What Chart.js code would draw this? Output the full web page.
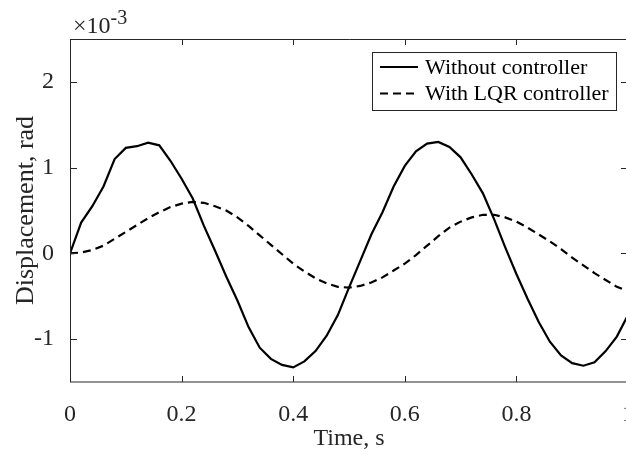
<!DOCTYPE html>
<html>
<head>
<meta charset="utf-8">
<script src="https://cdn.jsdelivr.net/npm/chart.js@4.4.1/dist/chart.umd.min.js"></script>
<style>
  html, body { margin: 0; padding: 0; background: #fff; overflow: hidden; }
  #wrap { position: relative; width: 630px; height: 454px; }
</style>
</head>
<body>
<div id="wrap"><canvas id="dispChart"></canvas></div>
<script>
// ── data (displacement in units of 1e-3 rad) ──
const timeS = [0, 0.02, 0.04, 0.06, 0.08, 0.10, 0.12, 0.14, 0.16, 0.18,
  0.20, 0.22, 0.24, 0.26, 0.28, 0.30, 0.32, 0.34, 0.36, 0.38,
  0.40, 0.42, 0.44, 0.46, 0.48, 0.50, 0.52, 0.54, 0.56, 0.58,
  0.60, 0.62, 0.64, 0.66, 0.68, 0.70, 0.72, 0.74, 0.76, 0.78,
  0.80, 0.82, 0.84, 0.86, 0.88, 0.90, 0.92, 0.94, 0.96, 0.98, 1.00];

const withoutCtrl = [0, 0.36, 0.55, 0.78, 1.10, 1.23, 1.25, 1.29, 1.26, 1.08,
  0.87, 0.64, 0.32, 0.03, -0.27, -0.55, -0.86, -1.10, -1.23, -1.30,
  -1.33, -1.26, -1.14, -0.96, -0.72, -0.40, -0.09, 0.22, 0.48, 0.78,
  1.02, 1.19, 1.28, 1.30, 1.24, 1.12, 0.92, 0.70, 0.40, 0.07,
  -0.24, -0.53, -0.80, -1.03, -1.19, -1.28, -1.31, -1.27, -1.14, -0.97, -0.72];

const withLqr = [0, 0.01, 0.04, 0.09, 0.17, 0.25, 0.33, 0.41, 0.48, 0.54,
  0.58, 0.60, 0.59, 0.55, 0.50, 0.42, 0.32, 0.21, 0.10, -0.01,
  -0.12, -0.21, -0.29, -0.35, -0.39, -0.40, -0.38, -0.34, -0.28, -0.20,
  -0.12, -0.02, 0.09, 0.20, 0.30, 0.37, 0.42, 0.45, 0.45, 0.42,
  0.37, 0.30, 0.22, 0.14, 0.05, -0.05, -0.14, -0.23, -0.31, -0.39, -0.44];

const xTicks = [0, 0.2, 0.4, 0.6, 0.8, 1];
const yTicks = [-1, 0, 1, 2];
const seriesNames = ['Without controller', 'With LQR controller'];

const FONT = "'Liberation Serif', 'Times New Roman', serif";
const INK = '#262626';

const toPts = arr => arr.map((v, i) => ({ x: timeS[i], y: v }));

// box, inward ticks, exponent, legend, axis titles (MATLAB look)
const matlabFrame = {
  id: 'matlabFrame',
  afterDraw(chart) {
    const { ctx, chartArea: a, scales: { x, y } } = chart;
    ctx.save();
    ctx.strokeStyle = INK;
    ctx.lineWidth = 1;
    ctx.beginPath();
    ctx.moveTo(a.left + 0.5, a.top + 0.5);
    ctx.lineTo(a.right, a.top + 0.5);
    ctx.moveTo(a.left + 0.5, a.top);
    ctx.lineTo(a.left + 0.5, a.bottom);
    ctx.moveTo(a.left, a.bottom);
    ctx.lineTo(a.right, a.bottom);
    ctx.moveTo(a.right - 0.5, a.top);
    ctx.lineTo(a.right - 0.5, a.bottom);
    x.ticks.forEach(t => {
      const px = Math.round(x.getPixelForValue(t.value)) + 0.5;
      ctx.moveTo(px, a.bottom); ctx.lineTo(px, a.bottom - 6);
      ctx.moveTo(px, a.top); ctx.lineTo(px, a.top + 6);
    });
    y.ticks.forEach(t => {
      const py = Math.round(y.getPixelForValue(t.value)) + 0.5;
      ctx.moveTo(a.left, py); ctx.lineTo(a.left + 7, py);
      ctx.moveTo(a.right, py); ctx.lineTo(a.right - 7, py);
    });
    ctx.stroke();

    // exponent label
    ctx.fillStyle = INK;
    ctx.textBaseline = 'alphabetic';
    ctx.textAlign = 'left';
    ctx.font = `24px ${FONT}`;
    ctx.fillText('\u00d710', 73, 33);
    const w = ctx.measureText('\u00d710').width;
    ctx.font = `20px ${FONT}`;
    ctx.fillText('-3', 73 + w, 24);

    // axis titles
    ctx.font = `24px ${FONT}`;
    ctx.textAlign = 'center';
    ctx.fillText('Time, s', (a.left + a.right) / 2, 445);
    ctx.save();
    ctx.font = `26px ${FONT}`;
    ctx.translate(33, (a.top + a.bottom) / 2);
    ctx.rotate(-Math.PI / 2);
    ctx.fillText('Displacement, rad', 0, 0);
    ctx.restore();

    // legend
    const lx = 372.5, ly = 52.5, lw = 244, lh = 58;
    ctx.fillStyle = '#fff';
    ctx.fillRect(lx, ly, lw, lh);
    ctx.strokeStyle = INK;
    ctx.strokeRect(lx, ly, lw, lh);
    ctx.font = `22px ${FONT}`;
    ctx.textAlign = 'left';
    ctx.textBaseline = 'middle';
    chart.data.datasets.forEach((ds, i) => {
      const rowY = 67 + i * 26.5;
      ctx.strokeStyle = ds.borderColor;
      ctx.lineWidth = ds.borderWidth;
      ctx.setLineDash(ds.borderDash || []);
      ctx.beginPath();
      ctx.moveTo(380, rowY);
      ctx.lineTo(418, rowY);
      ctx.stroke();
      ctx.setLineDash([]);
      ctx.fillStyle = '#000';
      ctx.fillText(ds.label, 425, rowY + 1);
    });
    ctx.restore();
  }
};

new Chart(document.getElementById('dispChart'), {
  type: 'line',
  data: {
    datasets: [
      { label: seriesNames[0], data: toPts(withoutCtrl), borderColor: '#000', borderWidth: 2.2, pointRadius: 0, tension: 0 },
      { label: seriesNames[1], data: toPts(withLqr), borderColor: '#000', borderWidth: 2.2, borderDash: [8, 5], pointRadius: 0, tension: 0 }
    ]
  },
  options: {
    responsive: true,
    maintainAspectRatio: false,
    animation: false,
    layout: { padding: { left: 0, top: 39, right: 2, bottom: 0 } },
    plugins: { legend: { display: false }, tooltip: { enabled: false } },
    scales: {
      x: {
        type: 'linear', min: 0, max: 1,
        afterBuildTicks: s => { s.ticks = xTicks.map(v => ({ value: v })); },
        afterFit: s => { s.height = 72; s.paddingLeft = 0; s.paddingRight = 0; },
        grid: { display: false }, border: { display: false },
        ticks: { color: INK, font: { family: FONT, size: 24 }, padding: 10, maxRotation: 0, autoSkip: false, callback: v => String(v) }
      },
      y: {
        min: -1.5, max: 2.5,
        afterBuildTicks: s => { s.ticks = yTicks.map(v => ({ value: v })); },
        afterFit: s => { s.width = 70; },
        grid: { display: false }, border: { display: false },
        ticks: { color: INK, font: { family: FONT, size: 24 }, padding: 8, callback: v => String(v) }
      }
    }
  },
  plugins: [matlabFrame]
});
</script>
</body>
</html>
